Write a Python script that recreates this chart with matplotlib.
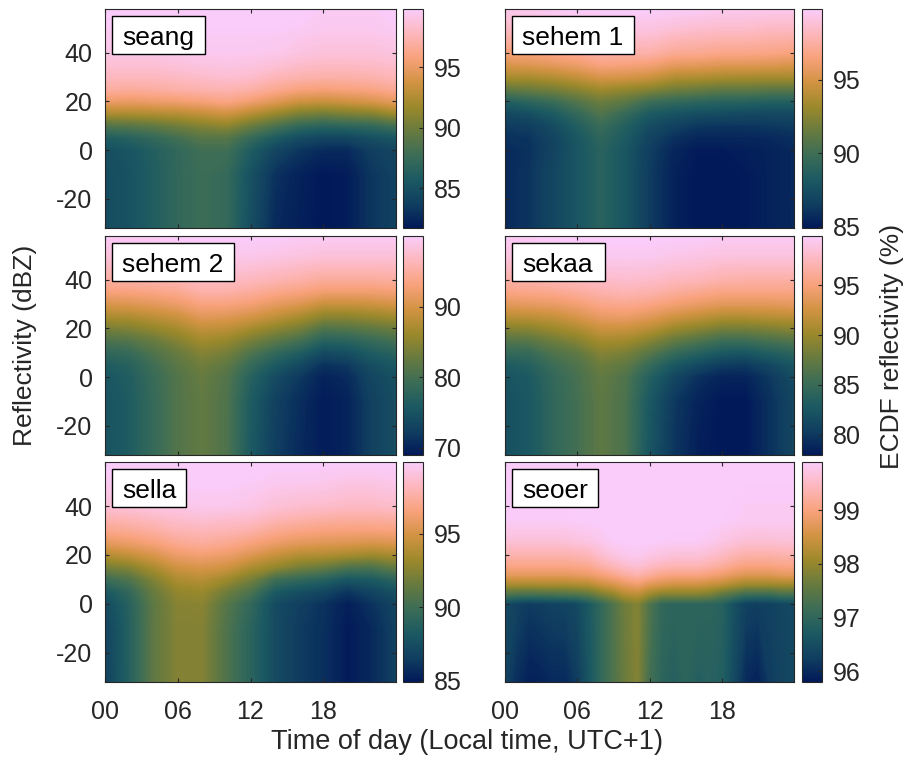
"""ECDF of radar reflectivity by time of day, six sites."""
import numpy as np
import matplotlib
matplotlib.use("Agg")
import matplotlib.pyplot as plt
from matplotlib.cm import ScalarMappable
from matplotlib.colors import LinearSegmentedColormap, Normalize
from matplotlib.patches import Rectangle

plt.rcParams["font.family"] = ["Liberation Sans", "DejaVu Sans"]
plt.rcParams["axes.unicode_minus"] = False

# ── Data (one inner list per time of day) ───────────────────────────────────
hours = [0, 2, 4, 6, 8, 10, 12, 14, 16, 18, 20, 22, 24]
refl = [-32, -10, 0, 5, 10, 15, 20, 25, 30, 35, 40, 50, 58]

seang = [
    [84.6, 84.6, 84.8, 85.9, 88.6, 92.2, 95.1, 96.9, 97.8, 98.5, 99.1, 99.6, 99.8],
    [85.1, 85.1, 85.3, 86.4, 88.9, 92.2, 94.9, 96.7, 97.8, 98.5, 99.1, 99.6, 99.8],
    [86.0, 86.0, 86.2, 87.1, 89.3, 92.4, 95.1, 96.9, 97.8, 98.5, 99.1, 99.6, 99.8],
    [87.1, 87.1, 87.1, 88.0, 90.0, 92.6, 95.3, 97.1, 98.0, 98.7, 99.3, 99.7, 99.8],
    [87.7, 87.7, 87.9, 88.9, 90.7, 93.1, 95.6, 97.3, 98.2, 98.9, 99.4, 99.7, 99.8],
    [87.3, 87.3, 87.9, 88.9, 91.1, 93.6, 96.0, 97.4, 98.4, 99.0, 99.4, 99.7, 99.8],
    [84.8, 85.0, 85.9, 87.3, 89.7, 92.6, 95.3, 97.1, 98.2, 98.9, 99.4, 99.7, 99.8],
    [82.6, 83.0, 84.2, 85.7, 88.4, 91.5, 94.4, 96.4, 97.6, 98.6, 99.3, 99.7, 99.8],
    [82.1, 82.2, 83.2, 84.6, 87.1, 90.4, 93.5, 95.8, 97.3, 98.2, 98.9, 99.6, 99.8],
    [81.7, 81.7, 82.6, 84.1, 86.6, 90.0, 93.3, 95.6, 97.1, 98.0, 98.7, 99.4, 99.6],
    [81.9, 81.9, 82.6, 84.1, 86.8, 90.4, 93.6, 95.8, 97.1, 98.0, 98.7, 99.4, 99.6],
    [83.2, 83.2, 83.7, 84.8, 87.1, 90.7, 94.0, 96.0, 97.3, 98.1, 98.7, 99.4, 99.6],
    [83.9, 83.9, 84.2, 85.3, 88.0, 91.7, 94.7, 96.5, 97.6, 98.3, 98.9, 99.6, 99.8],
]
sehem1 = [
    [85.6, 85.6, 85.6, 85.9, 86.4, 87.1, 88.5, 91.2, 93.5, 95.0, 96.4, 98.3, 99.4],
    [86.1, 86.1, 86.0, 86.1, 86.5, 87.4, 89.1, 91.5, 93.5, 95.2, 96.5, 98.5, 99.5],
    [87.0, 87.0, 86.8, 86.9, 87.3, 88.2, 89.7, 91.9, 93.8, 95.5, 96.8, 98.6, 99.7],
    [87.9, 87.9, 87.9, 88.0, 88.5, 89.4, 90.7, 92.5, 94.3, 95.9, 97.1, 98.9, 99.8],
    [88.9, 88.9, 88.9, 89.2, 89.7, 90.6, 91.6, 93.2, 95.0, 96.5, 97.6, 99.1, 99.8],
    [87.9, 87.9, 87.9, 88.2, 88.6, 89.5, 91.0, 92.8, 94.9, 96.4, 97.6, 99.1, 99.8],
    [86.4, 86.4, 86.5, 86.8, 87.3, 88.2, 89.8, 92.4, 94.6, 96.2, 97.6, 99.1, 99.8],
    [85.3, 85.3, 85.5, 85.9, 86.7, 87.7, 89.4, 91.8, 93.8, 95.6, 97.1, 98.8, 99.7],
    [84.9, 84.9, 85.0, 85.5, 86.2, 87.4, 89.1, 91.5, 93.7, 95.5, 97.0, 98.6, 99.7],
    [84.9, 84.9, 85.0, 85.5, 86.1, 87.3, 88.9, 91.2, 93.5, 95.3, 96.8, 98.5, 99.5],
    [85.0, 85.0, 85.2, 85.5, 86.1, 87.1, 88.8, 91.2, 93.4, 95.3, 96.8, 98.5, 99.5],
    [85.3, 85.3, 85.3, 85.6, 86.2, 87.1, 88.6, 91.0, 93.4, 95.2, 96.7, 98.3, 99.4],
    [85.6, 85.6, 85.6, 85.8, 86.4, 87.1, 88.6, 91.0, 93.4, 95.0, 96.5, 98.3, 99.4],
]
sehem2 = [
    [74.9, 74.9, 75.2, 76.1, 78.0, 80.5, 83.6, 87.0, 90.1, 92.9, 95.0, 98.1, 99.7],
    [76.1, 76.1, 76.4, 77.1, 78.6, 81.1, 84.2, 87.3, 90.4, 93.2, 95.4, 98.5, 99.7],
    [78.6, 78.6, 78.9, 79.5, 80.8, 82.6, 85.4, 88.2, 91.0, 93.5, 95.7, 98.5, 99.7],
    [81.1, 81.1, 81.1, 81.7, 82.6, 84.5, 86.7, 89.2, 91.9, 94.1, 96.0, 98.8, 100.0],
    [82.3, 82.3, 82.6, 83.3, 84.5, 86.4, 88.5, 91.0, 93.2, 95.4, 96.9, 99.1, 100.0],
    [80.8, 80.8, 81.1, 82.0, 83.6, 85.7, 88.2, 90.7, 93.2, 95.4, 96.9, 99.1, 100.0],
    [75.8, 76.1, 77.1, 78.6, 80.8, 83.6, 86.7, 89.8, 92.6, 94.7, 96.6, 99.1, 100.0],
    [72.4, 72.7, 74.0, 75.8, 78.3, 81.7, 85.1, 88.5, 91.3, 93.8, 96.0, 98.8, 100.0],
    [70.6, 70.9, 71.8, 73.7, 76.4, 79.9, 83.6, 87.0, 90.4, 93.2, 95.4, 98.5, 99.7],
    [69.3, 69.3, 69.9, 71.2, 73.7, 77.1, 80.8, 85.1, 88.8, 92.3, 94.7, 98.1, 99.7],
    [69.9, 69.9, 70.6, 71.8, 74.3, 77.4, 81.1, 85.1, 88.8, 92.3, 94.7, 98.1, 99.7],
    [72.7, 72.7, 73.3, 74.3, 76.1, 78.6, 82.0, 85.7, 89.2, 92.3, 94.7, 98.1, 99.7],
    [74.3, 74.3, 74.6, 75.5, 77.4, 79.9, 83.0, 86.4, 89.8, 92.6, 95.0, 98.1, 99.7],
]
sekaa = [
    [81.9, 81.9, 82.2, 83.0, 84.6, 86.5, 89.0, 91.4, 93.5, 95.3, 96.6, 98.8, 99.7],
    [82.6, 82.6, 82.8, 83.5, 84.8, 86.8, 89.2, 91.6, 93.8, 95.5, 96.8, 98.8, 99.7],
    [84.4, 84.4, 84.6, 85.2, 86.3, 87.9, 90.0, 92.0, 94.0, 95.7, 97.1, 99.0, 99.9],
    [85.7, 85.7, 85.9, 86.3, 87.2, 89.0, 90.9, 92.9, 94.6, 96.2, 97.5, 99.2, 99.9],
    [87.2, 87.2, 87.4, 87.9, 89.0, 90.5, 92.2, 94.0, 95.5, 96.8, 97.9, 99.5, 99.9],
    [86.1, 86.1, 86.3, 87.2, 88.5, 90.3, 92.2, 94.2, 95.7, 97.1, 98.1, 99.5, 99.9],
    [82.4, 82.6, 83.5, 84.8, 86.8, 89.0, 91.4, 93.5, 95.3, 96.8, 97.9, 99.5, 99.9],
    [79.8, 80.0, 81.1, 82.6, 84.8, 87.4, 90.0, 92.5, 94.6, 96.2, 97.5, 99.2, 99.9],
    [78.4, 78.7, 79.5, 81.3, 83.7, 86.3, 89.2, 91.8, 94.0, 95.7, 97.3, 99.0, 99.9],
    [78.0, 78.0, 78.7, 80.2, 82.6, 85.2, 88.3, 91.1, 93.5, 95.3, 96.8, 98.8, 99.7],
    [78.0, 78.0, 78.7, 80.0, 82.4, 85.2, 88.3, 91.1, 93.5, 95.3, 96.6, 98.8, 99.7],
    [79.5, 79.5, 80.0, 81.1, 83.3, 85.9, 88.7, 91.4, 93.5, 95.3, 96.6, 98.8, 99.7],
    [81.1, 81.1, 81.5, 82.4, 84.1, 86.5, 89.2, 91.6, 93.8, 95.3, 96.6, 98.8, 99.7],
]
sella = [
    [86.7, 86.8, 87.2, 88.0, 89.7, 92.0, 93.9, 95.6, 96.9, 97.9, 98.9, 99.6, 99.9],
    [88.7, 88.7, 88.8, 89.4, 90.6, 92.4, 94.4, 96.0, 97.2, 98.1, 99.0, 99.8, 99.9],
    [91.2, 91.2, 91.2, 91.5, 92.3, 93.6, 95.1, 96.5, 97.5, 98.4, 99.2, 99.8, 99.9],
    [92.4, 92.4, 92.5, 92.9, 93.7, 94.8, 96.0, 97.1, 98.0, 98.7, 99.3, 99.9, 99.9],
    [92.4, 92.4, 92.6, 93.1, 94.0, 95.1, 96.3, 97.4, 98.1, 98.9, 99.5, 99.9, 99.9],
    [90.6, 90.6, 90.9, 91.8, 93.2, 94.8, 96.0, 97.1, 98.0, 98.7, 99.5, 99.9, 99.9],
    [89.0, 89.0, 89.4, 90.5, 92.0, 93.7, 95.3, 96.6, 97.7, 98.6, 99.3, 99.8, 99.9],
    [87.3, 87.3, 87.3, 88.2, 90.0, 92.9, 94.5, 96.0, 97.1, 98.1, 98.9, 99.6, 99.9],
    [86.4, 86.4, 86.6, 87.5, 89.4, 92.0, 93.9, 95.6, 96.8, 97.8, 98.7, 99.6, 99.9],
    [85.9, 85.9, 86.0, 87.0, 88.8, 91.5, 93.8, 95.4, 96.6, 97.6, 98.6, 99.5, 99.9],
    [85.0, 85.0, 85.2, 86.1, 87.9, 90.6, 93.5, 95.3, 96.5, 97.5, 98.4, 99.3, 99.9],
    [85.6, 85.6, 86.0, 86.9, 88.2, 90.5, 93.2, 95.1, 96.5, 97.5, 98.4, 99.3, 99.9],
    [86.7, 86.7, 86.9, 87.6, 89.1, 91.4, 93.5, 95.3, 96.6, 97.6, 98.6, 99.5, 99.9],
]

# seoer has sharper hour-to-hour stripes and a lower transition, so its own grid
hours_seoer = list(range(25))
refl_seoer = [-32, 0, 4, 8, 12, 16, 20, 26, 34, 58]
seoer = [
    [96.29, 96.42, 97.36, 98.18, 98.75, 99.08, 99.33, 99.65, 99.86, 99.90],
    [96.05, 96.30, 97.30, 98.18, 98.75, 99.08, 99.33, 99.65, 99.86, 99.90],
    [95.88, 96.20, 97.28, 98.14, 98.75, 99.08, 99.33, 99.65, 99.86, 99.90],
    [95.92, 96.25, 97.30, 98.18, 98.75, 99.08, 99.33, 99.65, 99.86, 99.90],
    [96.00, 96.30, 97.32, 98.18, 98.75, 99.08, 99.33, 99.65, 99.86, 99.90],
    [96.00, 96.33, 97.36, 98.18, 98.75, 99.08, 99.33, 99.65, 99.86, 99.90],
    [96.21, 96.42, 97.40, 98.22, 98.79, 99.12, 99.37, 99.70, 99.88, 99.90],
    [96.62, 96.70, 97.52, 98.26, 98.84, 99.16, 99.41, 99.72, 99.90, 99.90],
    [97.03, 97.03, 97.77, 98.47, 98.96, 99.33, 99.57, 99.80, 99.90, 99.90],
    [97.36, 97.36, 97.97, 98.59, 99.08, 99.45, 99.70, 99.88, 99.90, 99.90],
    [97.65, 97.69, 98.26, 98.75, 99.24, 99.57, 99.78, 99.90, 99.90, 99.90],
    [97.85, 97.85, 98.34, 98.88, 99.33, 99.65, 99.82, 99.90, 99.90, 99.90],
    [97.24, 97.36, 98.06, 98.67, 99.20, 99.53, 99.74, 99.90, 99.90, 99.90],
    [96.95, 97.03, 97.85, 98.59, 99.08, 99.45, 99.70, 99.88, 99.90, 99.90],
    [96.83, 96.95, 97.85, 98.51, 99.04, 99.41, 99.65, 99.86, 99.90, 99.90],
    [96.95, 96.95, 97.85, 98.51, 99.04, 99.41, 99.65, 99.86, 99.90, 99.90],
    [96.83, 96.95, 97.85, 98.51, 99.04, 99.41, 99.65, 99.86, 99.90, 99.90],
    [96.87, 96.95, 97.77, 98.42, 98.96, 99.33, 99.57, 99.82, 99.90, 99.90],
    [96.83, 96.87, 97.52, 98.34, 98.88, 99.24, 99.49, 99.74, 99.88, 99.90],
    [96.42, 96.54, 97.36, 98.18, 98.75, 99.12, 99.37, 99.68, 99.86, 99.90],
    [96.00, 96.29, 97.15, 98.06, 98.67, 99.04, 99.30, 99.62, 99.84, 99.90],
    [95.92, 96.25, 97.15, 98.06, 98.67, 99.04, 99.30, 99.62, 99.84, 99.90],
    [96.21, 96.29, 97.15, 98.06, 98.67, 99.04, 99.30, 99.62, 99.84, 99.90],
    [96.33, 96.37, 97.28, 98.10, 98.75, 99.08, 99.33, 99.65, 99.84, 99.90],
    [96.42, 96.42, 97.28, 98.10, 98.75, 99.08, 99.33, 99.65, 99.84, 99.90],
]

names = ["seang", "sehem 1", "sehem 2", "sekaa", "sella", "seoer"]
tables = [seang, sehem1, sehem2, sekaa, sella, seoer]
time_axes = [hours, hours, hours, hours, hours, hours_seoer]
refl_axes = [refl, refl, refl, refl, refl, refl_seoer]
vmins = [81.7, 84.9, 69.0, 78.0, 84.9, 95.8]
vmaxs = [99.8, 99.8, 100.0, 99.9, 99.9, 99.9]
cbar_ticks = [[85, 90, 95], [85, 90, 95], [70, 80, 90], [80, 85, 90, 95], [85, 90, 95], [96, 97, 98, 99]]
time_ticks = [0, 6, 12, 18]
time_labels = ["00", "06", "12", "18"]
refl_ticks = [-20, 0, 20, 40]

# batlow
batlow = LinearSegmentedColormap.from_list("batlow", [
    "#011959", "#103F60", "#1C5A62", "#3C6D56", "#687B3E",
    "#9D892B", "#D29343", "#F8A17B", "#FDB7BC", "#FACCFA",
], N=256)

# ── Layout, in reference pixels ──────────────────────────────────────────────
W, H = 907, 760
TEXT = "#262626"
FS = 18
col_x = [(105, 396, 403, 423), (505, 794, 802, 822)]
row_y = [(9, 228), (236, 455), (462, 682)]
box_w = [93, 122, 122, 93, 74, 86]


def px_axes(fig, x0, x1, y0, y1):
    return fig.add_axes([x0 / W, 1 - y1 / H, (x1 - x0) / W, (y1 - y0) / H])


fig = plt.figure(figsize=(W / 100, H / 100), dpi=100)

for i, name in enumerate(names):
    r, c = i // 2, i % 2
    x0, x1, cx0, cx1 = col_x[c]
    y0, y1 = row_y[r]
    ax = px_axes(fig, x0, x1, y0, y1)
    z = np.array(tables[i]).T
    norm = Normalize(vmins[i], vmaxs[i])
    ax.contourf(time_axes[i], refl_axes[i], z, levels=np.linspace(vmins[i], vmaxs[i], 200),
                cmap=batlow, norm=norm, extend="both")
    ax.set_xlim(0, 24)
    ax.set_ylim(-32, 58)
    ax.set_xticks(time_ticks)
    ax.set_yticks(refl_ticks)
    ax.set_xticklabels(time_labels if r == 2 else [])
    if c != 0:
        ax.set_yticklabels([])
    ax.tick_params(direction="in", top=True, right=True, length=3, width=0.8,
                   color=TEXT, labelcolor=TEXT, labelsize=FS)
    ax.tick_params(axis="x", pad=13)
    ax.tick_params(axis="y", pad=9)
    for s in ax.spines.values():
        s.set_linewidth(0.8)
        s.set_color(TEXT)

    # site label in a fixed white box
    bw, bh = box_w[i] / (x1 - x0), 38 / (y1 - y0)
    bx, by = 7 / (x1 - x0), 1 - 45 / (y1 - y0)
    ax.add_patch(Rectangle((bx, by), bw, bh, transform=ax.transAxes, fc="white",
                           ec="black", lw=1, zorder=5))
    ax.text(bx + 10 / (x1 - x0), by + bh / 2 - 0.004, name, transform=ax.transAxes,
            fontsize=19, color="black", va="center_baseline", ha="left", zorder=6)

    cax = px_axes(fig, cx0, cx1, y0, y1)
    cb = fig.colorbar(ScalarMappable(norm=norm, cmap=batlow), cax=cax, ticks=cbar_ticks[i])
    cb.ax.tick_params(direction="in", length=3, width=0.8, color=TEXT,
                      labelcolor=TEXT, labelsize=FS, pad=8)
    cb.outline.set_linewidth(0.8)
    cb.outline.set_edgecolor(TEXT)

fig.text(467 / W, 1 - 742 / H, "Time of day (Local time, UTC+1)", fontsize=19.5, color=TEXT,
         ha="center", va="center")
fig.text(25 / W, 1 - 345 / H, "Reflectivity (dBZ)", fontsize=19, color=TEXT,
         rotation=90, ha="center", va="center")
fig.text(892 / W, 1 - 346 / H, "ECDF reflectivity (%)", fontsize=19, color=TEXT,
         rotation=90, ha="center", va="center")

fig.savefig("out.png", dpi=100)
